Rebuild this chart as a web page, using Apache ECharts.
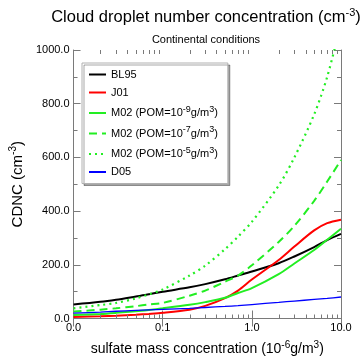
<!DOCTYPE html>
<html>
<head>
<meta charset="utf-8">
<script src="https://cdn.jsdelivr.net/npm/echarts@6/dist/echarts.min.js"></script>
<style>
  html, body { margin: 0; padding: 0; background: #fff; }
  #chart { width: 361px; height: 361px; }
</style>
</head>
<body>
<div id="chart"></div>
<script>
// sulfate mass concentration (10^-6 g/m3), log axis
const sulfate = [0.01, 0.02, 0.03, 0.05, 0.07, 0.1, 0.2, 0.3, 0.5, 0.7, 1, 2, 3, 5, 7, 10];

// CDNC (cm^-3)
const bl95 = [52, 62, 70, 82, 90, 100, 116, 128, 146, 160, 175, 206, 231, 266, 292, 315];
const j01 = [6, 8, 10, 14, 17, 21, 33, 47, 76, 104, 145, 218, 268, 328, 355, 368];
const m02pom9 = [13, 17, 21, 27, 32, 38, 51, 61, 77, 95, 113, 165, 205, 255, 293, 334];
const m02pom7 = [26, 33, 38, 46, 52, 58, 85, 104, 137, 160, 198, 285, 345, 438, 510, 590];
const m02pom5 = [38, 50, 58, 75, 90, 108, 160, 197, 258, 305, 360, 495, 600, 760, 900, 1100];
const d05 = [20, 24, 27, 30, 32, 34, 38, 41, 45, 48, 52, 60, 65, 71, 75, 80];

// log minor tick positions
const minorTicks = [0.02, 0.03, 0.04, 0.05, 0.06, 0.07, 0.08, 0.09,
  0.2, 0.3, 0.4, 0.5, 0.6, 0.7, 0.8, 0.9,
  2, 3, 4, 5, 6, 7, 8, 9];

const FONT = "Liberation Sans, Arial, sans-serif";
const AXIS_GREY = "#7a7a7a";

const pair = (ys) => sulfate.map((x, i) => [x, ys[i]]);

const sup = { fontSize: 9, fontFamily: FONT, color: "#000", verticalAlign: "bottom", padding: [0, 0, 7, 0] };

const legendLabels = {
  "BL95": "BL95",
  "J01": "J01",
  "M02a": "M02 (POM=10{s|-9}g/m{s|3})",
  "M02b": "M02 (POM=10{s|-7}g/m{s|3})",
  "M02c": "M02 (POM=10{s|-5}g/m{s|3})",
  "D05": "D05",
};

function lineSeries(name, ys, color, width, type) {
  return {
    name,
    type: "line",
    data: pair(ys),
    smooth: 0.3,
    symbol: "none",
    clip: true,
    lineStyle: { color, width, type: type || "solid" },
    itemStyle: { color },
  };
}

const chart = echarts.init(document.getElementById("chart"));
chart.setOption({
  animation: false,
  textStyle: { fontFamily: FONT },
  title: [
    {
      text: "{a|Cloud droplet number concentration (cm}{s|-3}{a|)}",
      left: 201,
      textAlign: "center",
      top: 2,
      textStyle: {
        fontWeight: "normal",
        rich: {
          a: { fontSize: 16.5, fontWeight: "normal", fontFamily: FONT, color: "#000" },
          s: { fontSize: 11, fontWeight: "normal", fontFamily: FONT, color: "#000", verticalAlign: "bottom", padding: [0, 0, 10, 0] },
        },
      },
    },
    {
      text: "Continental conditions",
      left: 201,
      textAlign: "center",
      top: 29,
      textStyle: { fontSize: 11, fontWeight: "normal", fontFamily: FONT, color: "#000" },
    },
  ],
  legend: {
    orient: "vertical",
    left: 82,
    top: 63,
    padding: [6, 10, 6, 6],
    itemGap: 7,
    itemWidth: 17,
    itemHeight: 12,
    backgroundColor: "#fff",
    borderColor: "#b0b0b0",
    borderWidth: 1,
    shadowColor: "rgba(0,0,0,0.35)",
    shadowOffsetX: 2,
    shadowOffsetY: 2,
    shadowBlur: 0,
    itemStyle: { opacity: 0 },
    data: ["BL95", "J01", "M02a", "M02b", "M02c", "D05"],
    formatter: (name) => legendLabels[name],
    textStyle: {
      fontSize: 11,
      fontFamily: FONT,
      color: "#000",
      rich: { s: sup },
    },
  },
  grid: { left: 67, right: 20, top: 50, bottom: 36, containLabel: false },
  xAxis: [
    {
      type: "log",
      logBase: 10,
      min: 0.01,
      max: 10,
      position: "bottom",
      name: "{a|sulfate mass concentration (10}{s|-6}{a|g/m}{s|3}{a|)}",
      nameLocation: "middle",
      nameGap: 22,
      nameTextStyle: {
        rich: {
          a: { fontSize: 14, fontFamily: FONT, color: "#000" },
          s: { fontSize: 10, fontFamily: FONT, color: "#000", verticalAlign: "bottom", padding: [0, 0, 7, 0] },
        },
      },
      axisLine: { show: true, lineStyle: { color: AXIS_GREY, width: 1 } },
      axisTick: { show: true, inside: true, length: 8, lineStyle: { color: AXIS_GREY } },
      axisLabel: {
        fontSize: 11,
        color: "#000",
        margin: 4,
        formatter: (v) => v.toFixed(1),
      },
      splitLine: { show: false },
    },
    {
      type: "log",
      logBase: 10,
      min: 0.01,
      max: 10,
      position: "top",
      axisLine: { show: true, lineStyle: { color: AXIS_GREY, width: 1 } },
      axisTick: { show: true, inside: true, length: 8, lineStyle: { color: AXIS_GREY } },
      axisLabel: { show: false },
      splitLine: { show: false },
    },
  ],
  yAxis: [
    {
      type: "value",
      min: 0,
      max: 1000,
      interval: 200,
      position: "left",
      name: "{a|CDNC (cm}{s|-3}{a|)}",
      nameLocation: "middle",
      nameRotate: 90,
      nameGap: 42,
      nameTextStyle: {
        rich: {
          a: { fontSize: 15, fontFamily: FONT, color: "#000" },
          s: { fontSize: 10, fontFamily: FONT, color: "#000", verticalAlign: "bottom", padding: [0, 0, 9, 0] },
        },
      },
      axisLine: { show: true, lineStyle: { color: AXIS_GREY, width: 1 } },
      axisTick: { show: true, inside: true, length: 7, lineStyle: { color: AXIS_GREY } },
      minorTick: { show: true, splitNumber: 2, length: 4, lineStyle: { color: AXIS_GREY } },
      axisLabel: {
        fontSize: 11,
        color: "#000",
        margin: 4,
        formatter: (v) => v.toFixed(1),
      },
      splitLine: { show: false },
      minorSplitLine: { show: false },
    },
    {
      type: "value",
      min: 0,
      max: 1000,
      interval: 200,
      position: "right",
      axisLine: { show: true, lineStyle: { color: AXIS_GREY, width: 1 } },
      axisTick: { show: true, inside: true, length: 7, lineStyle: { color: AXIS_GREY } },
      minorTick: { show: true, splitNumber: 2, length: 4, lineStyle: { color: AXIS_GREY } },
      axisLabel: { show: false },
      splitLine: { show: false },
      minorSplitLine: { show: false },
    },
  ],
  series: [
    lineSeries("BL95", bl95, "#000000", 2),
    lineSeries("J01", j01, "#ff0000", 2),
    lineSeries("M02a", m02pom9, "#22ee22", 2),
    lineSeries("M02b", m02pom7, "#22ee22", 2, [8, 5]),
    lineSeries("M02c", m02pom5, "#22ee22", 2.2, [2, 4]),
    lineSeries("D05", d05, "#0000ff", 1.3),
    {
      // minor log ticks on bottom and top axes
      type: "custom",
      silent: true,
      z: 5,
      data: minorTicks.map((v) => [v, 0]),
      renderItem: (params, api) => {
        const cs = params.coordSys;
        const x = Math.round(api.coord([api.value(0), 0])[0]) + 0.5;
        const yb = cs.y + cs.height;
        const yt = cs.y;
        const style = { stroke: AXIS_GREY, lineWidth: 1 };
        return {
          type: "group",
          children: [
            { type: "line", shape: { x1: x, y1: yb, x2: x, y2: yb - 4 }, style },
            { type: "line", shape: { x1: x, y1: yt, x2: x, y2: yt + 4 }, style },
          ],
        };
      },
    },
  ],
});
</script>
</body>
</html>
